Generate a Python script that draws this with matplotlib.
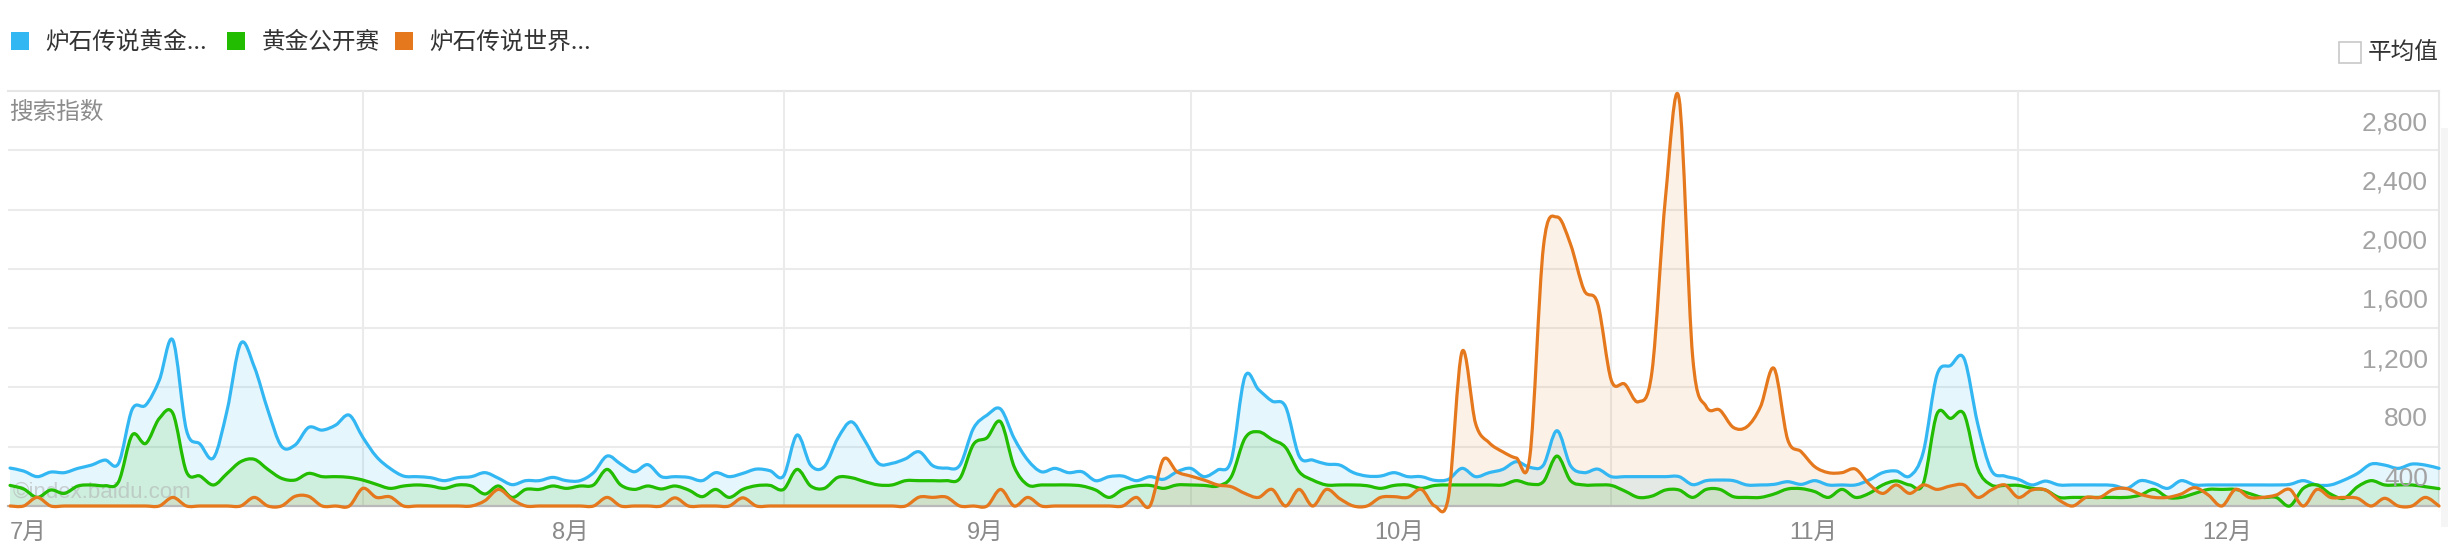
import matplotlib

matplotlib.use("Agg")
import matplotlib.pyplot as plt
import numpy as np
from matplotlib.patches import PathPatch, Rectangle
from matplotlib.path import Path
from matplotlib.transforms import blended_transform_factory

plt.rcParams["font.family"] = ["Noto Sans CJK SC", "DejaVu Sans"]

# daily search index, 180 days (Jun 21 - Dec 17)
blue = [
    256, 236, 198, 229, 225, 254, 276, 310, 288, 652, 681, 849, 1119, 512, 418, 326, 647, 1097, 939, 647,
    404, 411, 530, 512, 546, 613, 463, 333, 254, 202, 198, 191, 171, 191, 198, 225, 187, 144, 171, 171,
    193, 171, 171, 225, 337, 283, 231, 279, 198, 198, 193, 171, 225, 198, 220, 249, 238, 202, 479, 276,
    265, 456, 568, 440, 288, 288, 319, 366, 272, 256, 276, 524, 613, 654, 456, 310, 231, 254, 225, 231,
    171, 198, 202, 171, 198, 180, 231, 254, 198, 243, 310, 872, 786, 708, 670, 337, 310, 283, 276, 225,
    202, 202, 225, 198, 198, 173, 180, 254, 198, 225, 247, 299, 261, 276, 508, 272, 225, 249, 198, 198,
    198, 198, 198, 198, 144, 171, 175, 171, 142, 142, 146, 164, 146, 171, 142, 142, 142, 175, 225, 236,
    202, 366, 883, 948, 995, 557, 243, 202, 180, 142, 168, 142, 142, 142, 142, 139, 119, 171, 153, 119,
    171, 142, 142, 142, 142, 142, 142, 142, 146, 171, 142, 142, 175, 220, 283, 276, 254, 283, 276, 254,
]
green = [
    139, 115, 58, 108, 85, 135, 142, 137, 164, 479, 422, 591, 625, 231, 202, 142, 220, 299, 315, 247,
    187, 175, 220, 198, 198, 193, 175, 146, 119, 135, 142, 135, 119, 142, 135, 81, 135, 58, 112, 112,
    135, 119, 135, 142, 247, 142, 112, 135, 115, 135, 108, 63, 112, 58, 112, 137, 139, 112, 247, 135,
    119, 193, 191, 164, 142, 142, 171, 171, 171, 171, 187, 416, 461, 568, 265, 142, 142, 142, 142, 135,
    108, 58, 112, 135, 139, 119, 142, 142, 139, 135, 198, 456, 501, 449, 395, 231, 175, 142, 142, 142,
    137, 119, 139, 142, 119, 139, 142, 142, 142, 142, 142, 171, 148, 164, 337, 171, 142, 142, 139, 101,
    58, 67, 108, 108, 58, 112, 112, 63, 58, 58, 81, 115, 117, 97, 58, 112, 58, 85, 142, 169,
    142, 153, 620, 591, 620, 254, 142, 139, 139, 119, 108, 58, 58, 58, 58, 58, 58, 74, 112, 58,
    58, 85, 112, 112, 112, 85, 58, 58, 0, 119, 142, 81, 52, 130, 171, 142, 142, 142, 130, 117,
]
orange = [
    0, 0, 58, 0, 0, 0, 0, 0, 0, 0, 0, 0, 58, 0, 0, 0, 0, 0, 58, 0,
    0, 65, 65, 0, 0, 0, 119, 58, 62, 0, 0, 0, 0, 0, 0, 36, 112, 45, 0, 0,
    0, 0, 0, 0, 58, 0, 0, 0, 0, 55, 0, 0, 0, 0, 55, 0, 0, 0, 0, 0,
    0, 0, 0, 0, 0, 0, 0, 60, 58, 60, 0, 0, 0, 112, 0, 58, 0, 0, 0, 0,
    0, 0, 0, 58, 0, 315, 231, 202, 175, 142, 130, 85, 58, 112, 0, 112, 0, 112, 49, 0,
    0, 58, 63, 58, 112, 0, 60, 1040, 557, 427, 366, 324, 333, 1748, 1950, 1766, 1456, 1366, 849, 822,
    703, 906, 2085, 2748, 1007, 670, 647, 530, 535, 670, 928, 449, 366, 265, 225, 225, 249, 148, 85, 142,
    85, 142, 112, 135, 142, 58, 108, 142, 58, 108, 108, 40, 0, 58, 58, 112, 117, 79, 58, 58,
    81, 124, 74, 0, 112, 58, 58, 74, 112, 0, 112, 58, 58, 52, 0, 52, 0, 0, 58, 0,
]
series_names = ["炉石传说黄金...", "黄金公开赛", "炉石传说世界..."]
colors = ["#33b7f3", "#22bc00", "#e5781c"]
fill_alpha = [0.12, 0.12, 0.1]

month_labels = ["7月", "8月", "9月", "10月", "11月", "12月"]
month_pos = [0, 41.3, 71.9, 102.4, 132.9, 163.4]
grid_days = [26, 57, 87, 118, 148]
y_ticks = [400, 800, 1200, 1600, 2000, 2400, 2800]

W, H = 2448, 560


def fx(px):
    return px / W


def fy(py):
    return 1 - py / H


def smooth_verts(xs, ys):
    pts = np.column_stack([xs, ys]).astype(float)
    n = len(pts)
    verts = [pts[0]]
    codes = [Path.MOVETO]
    for i in range(n - 1):
        p0 = pts[i - 1] if i > 0 else pts[i]
        p1 = pts[i]
        p2 = pts[i + 1]
        p3 = pts[i + 2] if i + 2 < n else pts[i + 1]
        verts += [p1 + (p2 - p0) / 6, p2 - (p3 - p1) / 6, p2]
        codes += [Path.CURVE4] * 3
    return verts, codes


fig = plt.figure(figsize=(W / 100, H / 100), dpi=100)
ax = fig.add_axes([fx(8), 54 / H, 2431 / W, 415 / H])
ax.set_xlim(-0.15, 179)
ax.set_ylim(0, 2800)
ax.set_axis_off()

grid_c = "#ebebeb"
for v in y_ticks[:-1]:
    ax.axhline(v, color=grid_c, lw=1.5, zorder=0)
ax.axhline(2800, color="#e6e6e6", lw=1.5, zorder=0, clip_on=False)
for d in grid_days:
    ax.axvline(d, color=grid_c, lw=1.5, zorder=0)
ax.axvline(179, color="#e6e6e6", lw=1.5, zorder=0, clip_on=False)

days = np.arange(len(blue))
for i, (vals, c) in enumerate(zip([blue, green, orange], colors)):
    verts, codes = smooth_verts(days, vals)
    fverts = verts + [(days[-1], 0), (days[0], 0), (days[0], 0)]
    fcodes = codes + [Path.LINETO, Path.LINETO, Path.CLOSEPOLY]
    ax.add_patch(PathPatch(Path(fverts, fcodes), facecolor=c, alpha=fill_alpha[i], edgecolor="none", zorder=1))

ax.axhline(0, color="#b9b9b9", lw=1.6, zorder=1.6, clip_on=False)
ax.text(0.002, 0.034, "©index.baidu.com", transform=ax.transAxes, ha="left", va="center",
        fontsize=16, color="#b0b0b0", alpha=0.55, family=["Liberation Sans", "DejaVu Sans"], zorder=1.5)

for i, (vals, c) in enumerate(zip([blue, green, orange], colors)):
    verts, codes = smooth_verts(days, vals)
    ax.add_patch(PathPatch(Path(verts, codes), facecolor="none", edgecolor=c, lw=2.3,
                           capstyle="round", joinstyle="round", zorder=2 + i * 0.1, clip_on=False))

# value labels sit just under their grid line, right aligned inside the plot
ytr = blended_transform_factory(ax.transAxes, ax.transData)
for v in y_ticks:
    ax.annotate(f"{v:,}", xy=(1, v), xycoords=ytr, xytext=(-11, -32), textcoords="offset pixels",
                ha="right", va="center", fontsize=19, color="#a3a3a3",
                family=["Liberation Sans", "Noto Sans CJK SC"])

xtr = blended_transform_factory(ax.transData, ax.transAxes)
for lab, pos in zip(month_labels, month_pos):
    ax.text(pos, -27 / 415, lab, transform=xtr, ha="left" if pos == 0 else "center", va="center",
            fontsize=17, color="#8a8a8a", family=["Liberation Sans", "Noto Sans CJK SC"], clip_on=False)

ax.text(0.0005, (506 - 112) / 415, "搜索指数", transform=ax.transAxes, ha="left", va="center",
        fontsize=17, color="#8c8c8c")

# legend
sq_x = [11, 227, 395]
txt_x = [45, 262, 429]
for name, c, sx, tx in zip(series_names, colors, sq_x, txt_x):
    fig.patches.append(Rectangle((fx(sx), fy(50)), 18 / W, 18 / H, transform=fig.transFigure,
                                 facecolor=c, edgecolor="none"))
    fig.text(fx(tx), fy(42), name, ha="left", va="center", fontsize=17, color="#333333")

fig.patches.append(Rectangle((fx(2339), fy(63)), 22 / W, 21 / H, transform=fig.transFigure,
                             facecolor="white", edgecolor="#c8c8c8", lw=1.2))
fig.text(fx(2368), fy(53), "平均值", ha="left", va="center", fontsize=17, color="#333333")
fig.patches.append(Rectangle((fx(2441), fy(527)), 7 / W, 399 / H, transform=fig.transFigure,
                             facecolor="#f5f5f5", edgecolor="none"))

fig.savefig("out.png", dpi=100)
